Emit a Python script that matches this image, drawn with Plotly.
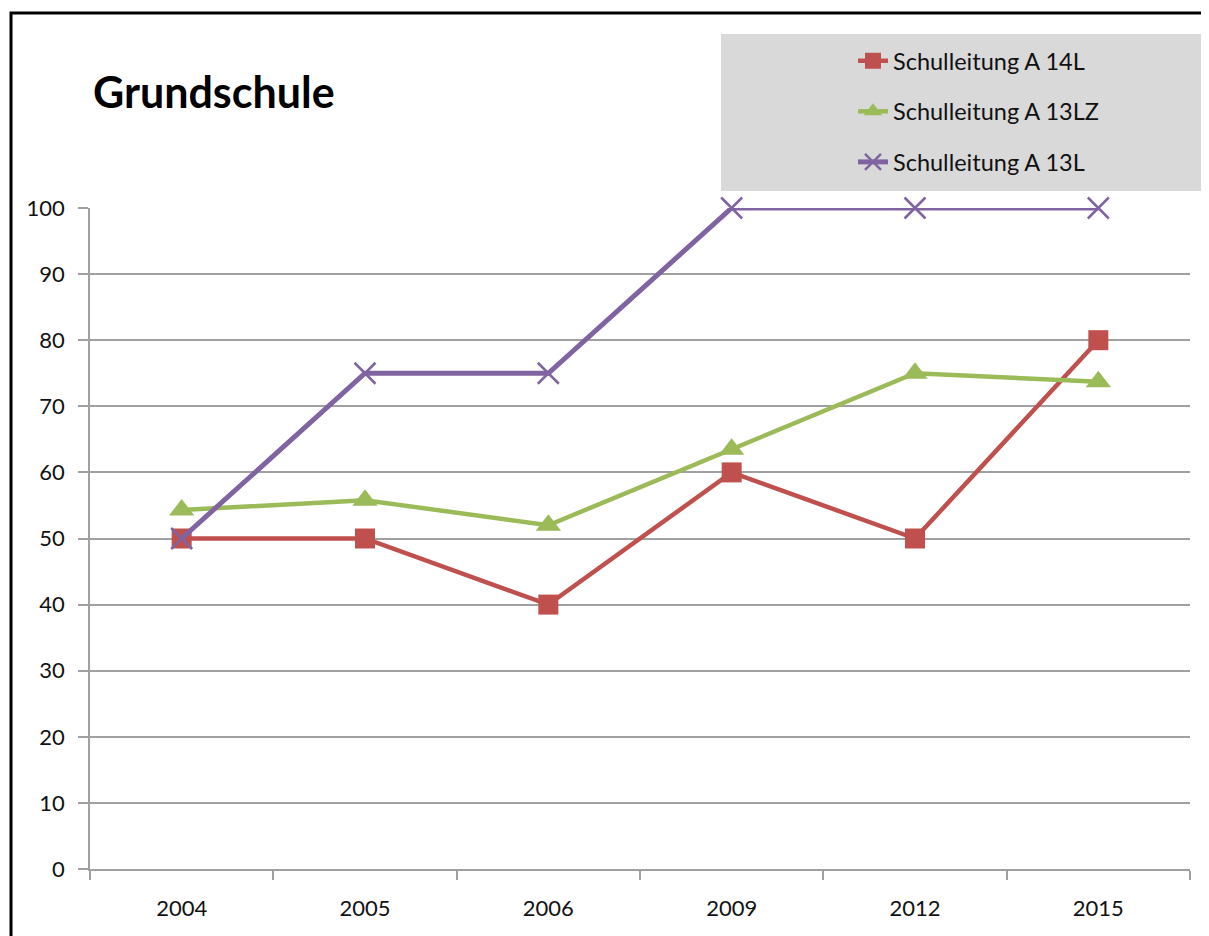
import plotly.graph_objects as go

years = ["2004", "2005", "2006", "2009", "2012", "2015"]
s14l = [50, 50, 40, 60, 50, 80]
s13lz = [54.3, 55.8, 52.0, 63.5, 75.0, 73.7]
s13l = [50, 75, 75, 100, 100, 100]
y_ticks = [0, 10, 20, 30, 40, 50, 60, 70, 80, 90, 100]

FONT = "Lato"
OFF = 8  # page body margin
W, H = 1209 - OFF, 936 - OFF
L, R, T, B = 90 - OFF, 19, 208 - OFF, 67
pw, ph = W - L - R, H - T - B

def px_x(px):
    return (px - OFF - L) / pw

def px_y(py):
    return (H - B - (py - OFF)) / ph

fig = go.Figure()
fig.add_trace(go.Scatter(
    x=years, y=s14l, name="Schulleitung A 14L", mode="lines+markers",
    line=dict(color="#c0504d", width=4.5),
    marker=dict(symbol="square", size=20, color="#c0504d"),
    cliponaxis=False, legendgroup="a"))
fig.add_trace(go.Scatter(
    x=years, y=s13lz, name="Schulleitung A 13LZ", mode="lines+markers",
    line=dict(color="#9bbb59", width=4.5),
    marker=dict(symbol="triangle-up", size=22, color="#9bbb59"),
    cliponaxis=False, legendgroup="b"))
fig.add_trace(go.Scatter(
    x=years, y=s13l, name="Schulleitung A 13L", mode="lines+markers",
    line=dict(color="#8064a2", width=5),
    marker=dict(symbol="x-thin", size=21, color="#8064a2",
                line=dict(color="#8064a2", width=2.5)),
    cliponaxis=False, legendgroup="c"))

# legend background box and outer frame
fig.add_shape(type="rect", xref="paper", yref="paper",
              x0=px_x(721), x1=px_x(1203), y0=px_y(191), y1=px_y(34),
              fillcolor="#d9d9d9", line=dict(width=0), layer="below")
fig.add_shape(type="rect", xref="paper", yref="paper",
              x0=px_x(11), x1=px_x(1230), y0=px_y(960), y1=px_y(13),
              line=dict(color="black", width=3), fillcolor="rgba(0,0,0,0)")

fig.add_annotation(text="<b>Grundschule</b>", xref="paper", yref="paper",
                   x=px_x(91), y=px_y(91), xanchor="left", yanchor="middle",
                   showarrow=False, font=dict(family=FONT, size=43, color="black"))

fig.update_layout(
    width=W, height=H,
    margin=dict(l=L, r=R, t=T, b=B),
    paper_bgcolor="white", plot_bgcolor="white",
    font=dict(family=FONT, size=22, color="#111111"),
    showlegend=True,
    legend=dict(x=px_x(853), y=px_y(39), xanchor="left", yanchor="top",
                bgcolor="rgba(0,0,0,0)", font=dict(family=FONT, size=23.5, color="#111111"),
                traceorder="grouped", tracegroupgap=17, itemwidth=30),
    xaxis=dict(type="category", tickson="boundaries", ticks="outside", ticklen=9,
               tickcolor="#a0a0a0", tickwidth=1.5, showgrid=False,
               showline=True, linecolor="#a0a0a0", linewidth=1.5,
               ticklabelstandoff=19, range=[-0.5, 5.5]),
    yaxis=dict(range=[0, 100], tickvals=y_ticks, ticks="outside", ticklen=10,
               tickcolor="#a0a0a0", tickwidth=1.5, showgrid=True,
               gridcolor="#a0a0a0", gridwidth=1.5, showline=True,
               linecolor="#a0a0a0", linewidth=1.5, zeroline=False,
               ticklabelstandoff=9),
)

fig.write_html("out.html")
